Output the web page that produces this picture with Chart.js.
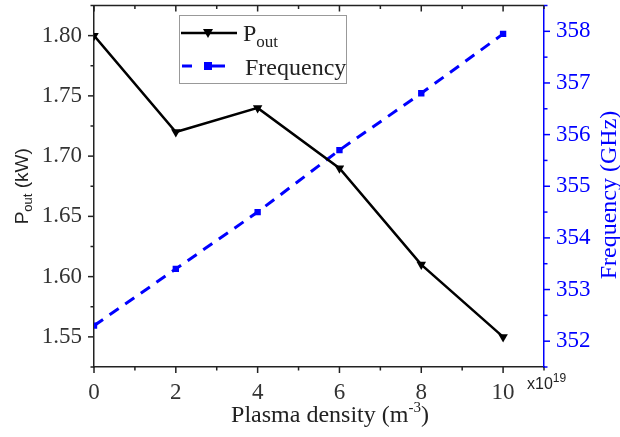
<!DOCTYPE html>
<html>
<head>
<meta charset="utf-8">
<script src="https://cdn.jsdelivr.net/npm/chart.js@4.4.0/dist/chart.umd.min.js"></script>
<style>
  html, body { margin: 0; padding: 0; background: #fff; }
  #wrap { width: 620px; height: 437px; }
</style>
</head>
<body>
<div id="wrap"><canvas id="chart"></canvas></div>
<script>
// plasma density, x10^19 m^-3
const densities = [0, 2, 4, 6, 8, 10];
const poutKW = [1.80, 1.72, 1.74, 1.69, 1.61, 1.55];
const freqGHz = [352.3, 353.4, 354.5, 355.7, 356.8, 357.95];

const xTicks = [0, 2, 4, 6, 8, 10];
const poutTicks = [1.55, 1.60, 1.65, 1.70, 1.75, 1.80];
const freqTicks = [352, 353, 354, 355, 356, 357, 358];

const SERIF = "'Liberation Serif', 'Times New Roman', serif";
const SANS = "'Liberation Sans', Arial, sans-serif";
const BLUE = "#0000ff";

function toPoints(xs, ys) {
  return xs.map((x, i) => ({ x: x, y: ys[i] }));
}

function fixTicks(values) {
  return scale => { scale.ticks = values.map(v => ({ value: v })); };
}

// force box size, drop the label-overflow padding chart.js adds
function fitBox(w, h) {
  return s => {
    if (w != null) s.width = w;
    if (h != null) s.height = h;
    s.paddingTop = 0; s.paddingBottom = 0;
    s.paddingLeft = 0; s.paddingRight = 0;
  };
}

// sub/superscript text helper
function drawRich(ctx, parts, x, y) {
  let cx = x;
  parts.forEach(p => {
    ctx.font = p.font;
    ctx.fillText(p.text, cx, y + (p.dy || 0));
    cx += ctx.measureText(p.text).width;
  });
  return cx - x;
}
function richWidth(ctx, parts) {
  return parts.reduce((w, p) => { ctx.font = p.font; return w + ctx.measureText(p.text).width; }, 0);
}

const decor = {
  id: "decor",
  afterDraw(chart) {
    const ctx = chart.ctx;
    const area = chart.chartArea;
    const sx = chart.scales.x, sy = chart.scales.y, sy2 = chart.scales.y2;
    ctx.save();

    // top frame line
    ctx.lineWidth = 1.5;
    ctx.strokeStyle = "#222";
    ctx.beginPath();
    ctx.moveTo(area.left, area.top);
    ctx.lineTo(area.right, area.top);
    ctx.stroke();

    // x ticks (bottom outward, top inward)
    for (let v = 0; v <= 11; v++) {
      const px = sx.getPixelForValue(v);
      const len = v % 2 === 0 ? 6 : 3.5;
      ctx.beginPath();
      ctx.moveTo(px, area.bottom);
      ctx.lineTo(px, area.bottom + len);
      ctx.moveTo(px, area.top);
      ctx.lineTo(px, area.top + len);
      ctx.stroke();
    }
    // left y ticks
    for (let i = 0; i <= 12; i++) {
      const v = 1.525 + i * 0.025;
      const py = sy.getPixelForValue(v);
      const len = i % 2 === 1 ? 6 : 3.5;
      ctx.beginPath();
      ctx.moveTo(area.left, py);
      ctx.lineTo(area.left - len, py);
      ctx.stroke();
    }
    // right y ticks
    ctx.strokeStyle = BLUE;
    for (let i = 0; i <= 14; i++) {
      const v = 351.5 + i * 0.5;
      const py = sy2.getPixelForValue(v);
      const len = i % 2 === 1 ? 6 : 3.5;
      ctx.beginPath();
      ctx.moveTo(area.right, py);
      ctx.lineTo(area.right + len, py);
      ctx.stroke();
    }

    // x title
    ctx.fillStyle = "#222";
    ctx.textBaseline = "alphabetic";
    const xt = [
      { text: "Plasma density (m", font: "24px " + SERIF },
      { text: "-3", font: "15px " + SERIF, dy: -10 },
      { text: ")", font: "24px " + SERIF }
    ];
    drawRich(ctx, xt, 330 - richWidth(ctx, xt) / 2, 422);

    // x multiplier
    drawRich(ctx, [
      { text: "x10", font: "16px " + SANS },
      { text: "19", font: "12px " + SANS, dy: -7 }
    ], 527, 389);

    // left title (rotated)
    ctx.save();
    ctx.translate(28, (area.top + area.bottom) / 2);
    ctx.rotate(-Math.PI / 2);
    const lt = [
      { text: "P", font: "19px " + SANS },
      { text: "out", font: "13px " + SANS, dy: 4 },
      { text: " (kW)", font: "19px " + SANS }
    ];
    drawRich(ctx, lt, -richWidth(ctx, lt) / 2, 0);
    ctx.restore();

    // right title (rotated)
    ctx.save();
    ctx.fillStyle = BLUE;
    ctx.translate(616, 195);
    ctx.rotate(-Math.PI / 2);
    ctx.font = "24px " + SERIF;
    ctx.textAlign = "center";
    ctx.fillText("Frequency (GHz)", 0, 0);
    ctx.restore();

    // legend
    ctx.lineWidth = 1;
    ctx.strokeStyle = "#999";
    ctx.strokeRect(179.5, 15.5, 167, 68);

    ctx.strokeStyle = "#000";
    ctx.lineWidth = 2.5;
    ctx.beginPath();
    ctx.moveTo(181, 33);
    ctx.lineTo(237, 33);
    ctx.stroke();
    ctx.fillStyle = "#000";
    ctx.beginPath();
    ctx.moveTo(203, 29);
    ctx.lineTo(213, 29);
    ctx.lineTo(208, 38);
    ctx.closePath();
    ctx.fill();
    ctx.fillStyle = "#222";
    drawRich(ctx, [
      { text: "P", font: "24px " + SERIF },
      { text: "out", font: "17px " + SERIF, dy: 6 }
    ], 243, 41);

    ctx.strokeStyle = BLUE;
    ctx.lineWidth = 3;
    ctx.beginPath();
    ctx.moveTo(182, 66); ctx.lineTo(192, 66);
    ctx.moveTo(208, 66); ctx.lineTo(225, 66);
    ctx.stroke();
    ctx.fillStyle = BLUE;
    ctx.fillRect(204, 62, 8, 8);
    ctx.fillStyle = "#222";
    ctx.font = "24px " + SERIF;
    ctx.fillText("Frequency", 245, 75);

    ctx.restore();
  }
};

new Chart(document.getElementById("chart"), {
  type: "line",
  data: {
    datasets: [
      {
        label: "Pout",
        data: toPoints(densities, poutKW),
        yAxisID: "y",
        borderColor: "#000",
        backgroundColor: "#000",
        borderWidth: 2.5,
        pointStyle: "triangle",
        rotation: 180,
        pointRadius: 5.5,
        pointBorderWidth: 0,
        tension: 0
      },
      {
        label: "Frequency",
        data: toPoints(densities, freqGHz),
        yAxisID: "y2",
        borderColor: BLUE,
        backgroundColor: BLUE,
        borderWidth: 3,
        borderDash: [11, 8],
        pointStyle: "rect",
        pointRadius: 4.5,
        pointBorderWidth: 0,
        tension: 0
      }
    ]
  },
  options: {
    responsive: true,
    maintainAspectRatio: false,
    animation: false,
    layout: { padding: { top: 4, left: 0, right: 0, bottom: 0 } },
    plugins: {
      legend: { display: false },
      tooltip: { enabled: false }
    },
    scales: {
      x: {
        type: "linear",
        min: 0,
        max: 11,
        afterBuildTicks: fixTicks(xTicks),
        afterFit: fitBox(null, 70),
        grid: { display: false },
        border: { display: true, color: "#222", width: 1.5 },
        ticks: {
          padding: 4,
          color: "#333",
          font: { family: SERIF, size: 23 },
          maxRotation: 0
        }
      },
      y: {
        position: "left",
        min: 1.525,
        max: 1.825,
        afterBuildTicks: fixTicks(poutTicks),
        afterFit: fitBox(94, null),
        grid: { display: false },
        border: { display: true, color: "#222", width: 1.5 },
        ticks: {
          padding: 4,
          color: "#333",
          font: { family: SERIF, size: 23 },
          callback: v => v.toFixed(2)
        }
      },
      y2: {
        position: "right",
        min: 351.5,
        max: 358.5,
        afterBuildTicks: fixTicks(freqTicks),
        afterFit: fitBox(76, null),
        grid: { display: false },
        border: { display: true, color: BLUE, width: 1.5 },
        ticks: {
          padding: 4,
          color: BLUE,
          font: { family: SERIF, size: 23 }
        }
      }
    }
  },
  plugins: [decor]
});
</script>
</body>
</html>
